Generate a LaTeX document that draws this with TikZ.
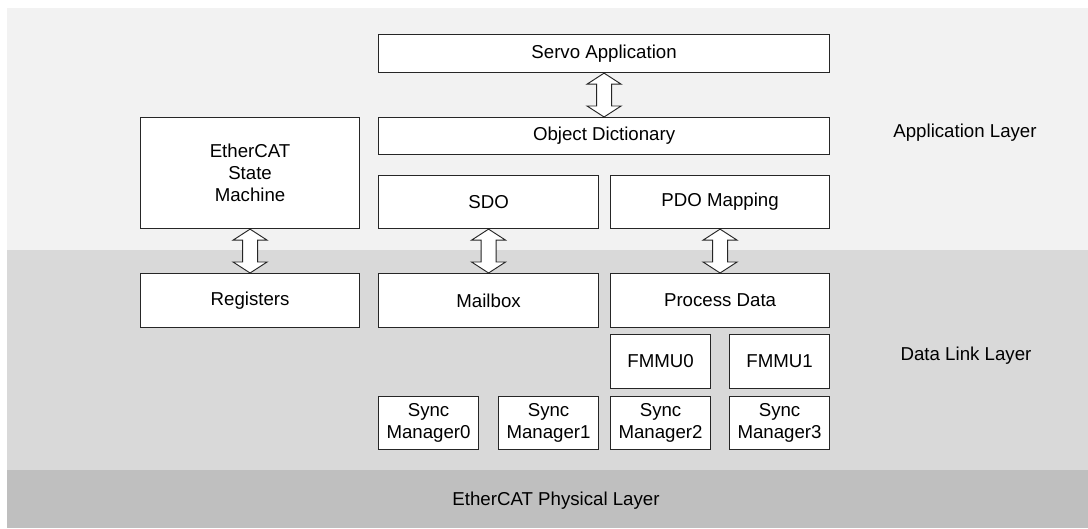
\documentclass[tikz,border=0pt]{standalone}
\usepackage{fontspec}
\setmainfont{Liberation Sans}
\usetikzlibrary{calc}
\definecolor{bandA}{HTML}{F2F2F2}
\definecolor{bandB}{HTML}{D9D9D9}
\definecolor{bandC}{HTML}{BFBFBF}
\definecolor{edge}{HTML}{262626}
\tikzset{
  box/.style={draw=edge, line width=0.85pt, fill=white, anchor=north west, inner sep=0pt, align=center,
    font=\fontsize{14}{16.5}\selectfont},
  lbl/.style={font=\fontsize{14}{16.5}\selectfont, inner sep=0pt},
  blockarr/.style={draw=edge, line width=0.7pt, fill=white, line join=miter},
}
\newcommand\mybox[6]{\node[box, minimum width=#4*0.75pt, minimum height=#5*0.75pt] (#1) at (#2,#3) {#6};}
\newcommand\dblarrow[2]{%
  \path[blockarr] let \p1=(#1.south), \p2=(#2.north) in
    (\x1,\y1) -- (\x1+12.75pt,\y1-8.25pt) -- (\x1+5.6pt,\y1-8.25pt) -- (\x1+5.6pt,\y2+8.25pt)
    -- (\x1+12.75pt,\y2+8.25pt) -- (\x1,\y2) -- (\x1-12.75pt,\y2+8.25pt) -- (\x1-5.6pt,\y2+8.25pt)
    -- (\x1-5.6pt,\y1-8.25pt) -- (\x1-12.75pt,\y1-8.25pt) -- cycle;}
\begin{document}
\begin{tikzpicture}[x=0.75pt,y=-0.75pt]
\useasboundingbox (0,0) rectangle (1088,528);
\fill[white] (0,0) rectangle (1088,528);
\fill[bandA] (7,8) rectangle (1088,250);
\fill[bandB] (7,250) rectangle (1088,470);
\fill[bandC] (7,470) rectangle (1088,528);

\mybox{esm}{140}{117}{219}{111}{EtherCAT\\State\\Machine}
\mybox{servo}{378}{34}{451}{38}{Servo Application}
\mybox{od}{378}{117}{451}{37}{Object Dictionary}
\mybox{sdo}{378}{175}{220}{53}{SDO}
\mybox{pdo}{610}{175}{219}{53}{PDO Mapping}
\mybox{reg}{140}{273}{219}{54}{Registers}
\mybox{mbx}{378}{273}{220}{54}{Mailbox}
\mybox{pd}{610}{273}{219}{54}{Process Data}
\mybox{fm0}{610}{334}{100}{54}{FMMU0}
\mybox{fm1}{729}{334}{100}{54}{FMMU1}
\mybox{sm0}{378}{396}{100}{53}{Sync\\Manager0}
\mybox{sm1}{498}{396}{100}{53}{Sync\\Manager1}
\mybox{sm2}{610}{396}{100}{53}{Sync\\Manager2}
\mybox{sm3}{729}{396}{100}{53}{Sync\\Manager3}

\dblarrow{servo}{od}
\dblarrow{esm}{reg}
\dblarrow{sdo}{mbx}
\dblarrow{pdo}{pd}

\node[lbl] (app) at (965,133) {Application Layer};
\node[lbl] (dll) at (966,356) {Data Link Layer};
\node[lbl] (phy) at (556,501) {EtherCAT Physical Layer};
\end{tikzpicture}
\end{document}
